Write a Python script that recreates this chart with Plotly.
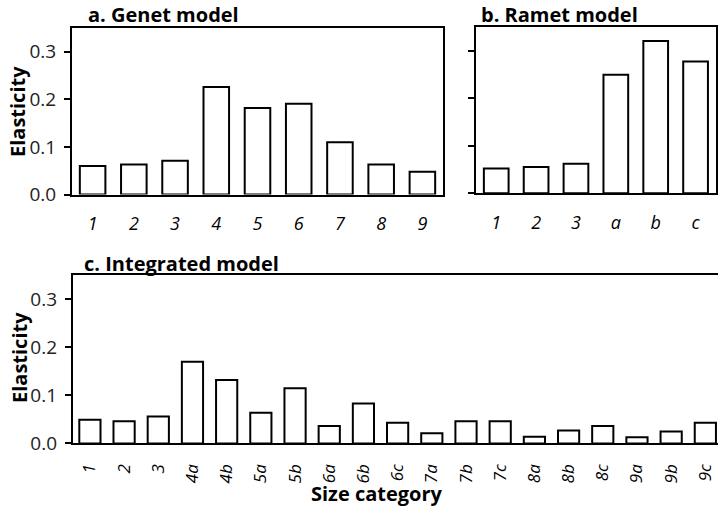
import plotly.graph_objects as go

# ---- data ----
genet_cats = ["1", "2", "3", "4", "5", "6", "7", "8", "9"]
genet_vals = [0.060, 0.063, 0.071, 0.226, 0.182, 0.191, 0.110, 0.063, 0.048]

ramet_cats = ["1", "2", "3", "a", "b", "c"]
ramet_vals = [0.052, 0.055, 0.062, 0.249, 0.320, 0.277]

integ_cats = ["1", "2", "3", "4a", "4b", "5a", "5b", "6a", "6b", "6c",
              "7a", "7b", "7c", "8a", "8b", "8c", "9a", "9b", "9c"]
integ_vals = [0.049, 0.046, 0.056, 0.170, 0.132, 0.064, 0.115, 0.036, 0.083, 0.043,
              0.021, 0.046, 0.046, 0.014, 0.027, 0.036, 0.013, 0.025, 0.043]

y_ticks = [0.0, 0.1, 0.2, 0.3]
y_ticktext = ["0.0", "0.1", "0.2", "0.3"]

W, H = 718, 508
FONT = "Open Sans"

def px(x):
    return x / W

def py(y):
    return 1 - y / H

bar_style = dict(marker=dict(color="white", line=dict(color="black", width=2)),
                 showlegend=False, hoverinfo="x+y")

fig = go.Figure()
fig.add_trace(go.Bar(x=genet_cats, y=genet_vals, xaxis="x", yaxis="y", **bar_style))
fig.add_trace(go.Bar(x=ramet_cats, y=ramet_vals, xaxis="x2", yaxis="y2", **bar_style))
fig.add_trace(go.Bar(x=integ_cats, y=integ_vals, xaxis="x3", yaxis="y3", **bar_style))

xcommon = dict(showline=True, linecolor="black", linewidth=2, ticks="", showgrid=False,
               zeroline=False, type="category", automargin=False,
               tickfont=dict(family=FONT, size=18, color="black", style="italic"))
ycommon = dict(showline=True, linecolor="black", linewidth=2, ticks="outside", ticklen=6,
               tickwidth=1.5, tickcolor="black", showgrid=False, zeroline=False,
               automargin=False,
               range=[0, 0.35], tickvals=y_ticks, ticktext=y_ticktext,
               tickfont=dict(family=FONT, size=19, color="#222"), ticklabelstandoff=4)

fig.update_layout(
    template="none",
    width=W, height=H, margin=dict(l=0, r=0, t=0, b=0, pad=0), autosize=False,
    plot_bgcolor="white", paper_bgcolor="white",
    bargap=0.38,
    xaxis=dict(xcommon, domain=[px(72), px(443)], anchor="y", mirror=True,
               range=[-0.5, 8.5], ticklabelstandoff=12),
    yaxis=dict(ycommon, domain=[py(194.5), py(28)], anchor="x", mirror=True),
    xaxis2=dict(xcommon, domain=[px(476.3), px(715.5)], anchor="y2", mirror=True,
                range=[-0.5, 5.5], ticklabelstandoff=12),
    yaxis2=dict(ycommon, domain=[py(193.3), py(26.7)], anchor="x2", mirror=True,
                showticklabels=False),
    xaxis3=dict(xcommon, domain=[px(72.8), 1.0], anchor="y3", mirror=True,
                range=[-0.5, 18.37], tickangle=-90, ticklabelstandoff=12,
                tickfont=dict(family=FONT, size=17, color="black", style="italic")),
    yaxis3=dict(ycommon, domain=[py(443.4), py(275.3)], anchor="x3", mirror=False),
)

title_font = dict(family=FONT, size=20, color="black", weight="bold")
ann = [
    dict(text="a. Genet model", x=px(86), y=py(15), xanchor="left", yanchor="middle"),
    dict(text="b. Ramet model", x=px(479), y=py(15), xanchor="left", yanchor="middle"),
    dict(text="c. Integrated model", x=px(82), y=py(263), xanchor="left", yanchor="middle"),
    dict(text="Elasticity", x=px(17), y=py(112), xanchor="center", yanchor="middle",
         textangle=-90),
    dict(text="Elasticity", x=px(19), y=py(358), xanchor="center", yanchor="middle",
         textangle=-90),
    dict(text="Size category", x=px(377), y=0, xanchor="center", yanchor="bottom",
         borderpad=0),
]
fig.update_layout(annotations=[dict(a, xref="paper", yref="paper", showarrow=False,
                                    font=title_font) for a in ann])

fig.write_html("out.html", config={"displayModeBar": False, "responsive": False})

# remove default page margin so the figure fills the 718x508 window exactly
with open("out.html", "r", encoding="utf-8") as f:
    html = f.read()
html = html.replace("<head>", "<head><style>html,body{margin:0;padding:0;overflow:hidden;}</style>", 1)
with open("out.html", "w", encoding="utf-8") as f:
    f.write(html)
